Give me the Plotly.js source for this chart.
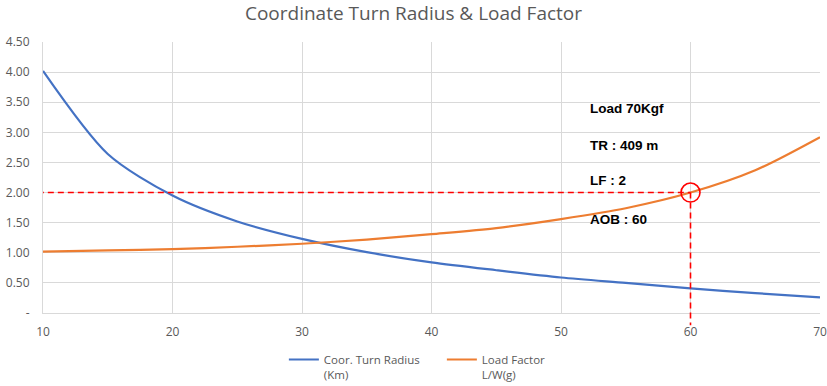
<!DOCTYPE html>
<html>
<head>
<meta charset="utf-8">
<script src="https://cdn.plot.ly/plotly-3.0.1.min.js"></script>
<style>html,body{margin:0;padding:0;background:#fff;}#chart{width:827px;height:386px;}</style>
</head>
<body>
<div id="chart"></div>
<script>
// Bank angle (AOB, deg)
const bankAngle = [10, 15, 20, 25, 30, 35, 40, 45, 50, 55, 60, 65, 70];
// Coordinated turn radius (km)
const turnRadius = [4.02, 2.64, 1.95, 1.52, 1.23, 1.01, 0.84, 0.71, 0.59, 0.50, 0.41, 0.33, 0.26];
// Load factor L/W (g)
const loadFactor = [1.02, 1.04, 1.06, 1.10, 1.15, 1.22, 1.31, 1.41, 1.56, 1.74, 2.00, 2.37, 2.92];

const yTickVals = [0, 0.5, 1, 1.5, 2, 2.5, 3, 3.5, 4, 4.5];
const yTickText = ['-', '0.50', '1.00', '1.50', '2.00', '2.50', '3.00', '3.50', '4.00', '4.50'];
const xTickVals = [10, 20, 30, 40, 50, 60, 70];

const markX = 60, markY = 2;
const noteX = 52.1;
const noteY = [3.39, 2.78, 2.20, 1.56];
const noteText = ['Load 70Kgf', 'TR : 409 m', 'LF : 2', 'AOB : 60'];
const yMax = 4.5;

const traces = [
  {x: bankAngle, y: turnRadius, type: 'scatter', mode: 'lines', name: 'Coor. Turn Radius<br>(Km)',
   line: {color: '#4472C4', width: 2.2, shape: 'spline', smoothing: 0.8}},
  {x: bankAngle, y: loadFactor, type: 'scatter', mode: 'lines', name: 'Load Factor<br>L/W(g)',
   line: {color: '#ED7D31', width: 2.2, shape: 'spline', smoothing: 0.8}},
  {x: [markX], y: [markY], type: 'scatter', mode: 'markers', showlegend: false, hoverinfo: 'skip',
   marker: {symbol: 'circle-open', size: 19, color: '#FF0000', line: {width: 1.6, color: '#FF0000'}}, cliponaxis: false}
];

const gray = '#595959';
const layout = {
  width: 827, height: 386,
  margin: {l: 43, r: 7, t: 42, b: 73, autoexpand: false},
  paper_bgcolor: '#fff', plot_bgcolor: '#fff',
  title: {text: 'Coordinate Turn Radius & Load Factor', x: 0.5, xanchor: 'center', yref: 'container', y: 0.966, yanchor: 'middle',
          font: {family: 'Open Sans, Noto Sans, sans-serif', size: 19, color: gray}},
  font: {family: 'Open Sans, Noto Sans, sans-serif', color: gray},
  xaxis: {range: [10, 70], tickvals: xTickVals, ticktext: xTickVals.map(String),
          showgrid: true, gridcolor: '#d9d9d9', gridwidth: 1, zeroline: false,
          showline: true, linecolor: '#d9d9d9', linewidth: 1, mirror: false,
          ticks: 'outside', ticklen: 8, tickcolor: 'rgba(0,0,0,0)',
          tickfont: {size: 12, color: gray}},
  yaxis: {range: [0, yMax], tickvals: yTickVals, ticktext: yTickText,
          showgrid: true, gridcolor: '#d9d9d9', gridwidth: 1, zeroline: false,
          showline: true, linecolor: '#d9d9d9', linewidth: 1,
          ticks: 'outside', ticklen: 10, tickcolor: 'rgba(0,0,0,0)',
          tickfont: {size: 12, color: gray}},
  showlegend: true,
  legend: {orientation: 'h', x: 0.31, xanchor: 'left', y: -0.12, yanchor: 'top', valign: 'top',
           entrywidth: 113, entrywidthmode: 'pixels',
           font: {size: 11.5, color: gray}, bgcolor: 'rgba(0,0,0,0)', tracegroupgap: 0},
  shapes: [
    {type: 'line', xref: 'x', yref: 'y', x0: bankAngle[0] - 0.4, x1: markX, y0: markY, y1: markY,
     line: {color: '#FF0000', width: 1.6, dash: '6px,4px'}},
    {type: 'line', xref: 'x', yref: 'paper', x0: markX, x1: markX, y0: markY / yMax, y1: -0.045,
     line: {color: '#FF0000', width: 1.6, dash: '6px,4px'}}
  ],
  annotations: noteText.map((t, i) => ({
    x: noteX, y: noteY[i], xref: 'x', yref: 'y', text: t, showarrow: false,
    xanchor: 'left', yanchor: 'middle',
    font: {family: 'Liberation Sans, Arial, sans-serif', size: 13.5, color: '#000', weight: 'bold'}
  }))
};

Plotly.newPlot('chart', traces, layout, {displayModeBar: false, staticPlot: true});
</script>
</body>
</html>
